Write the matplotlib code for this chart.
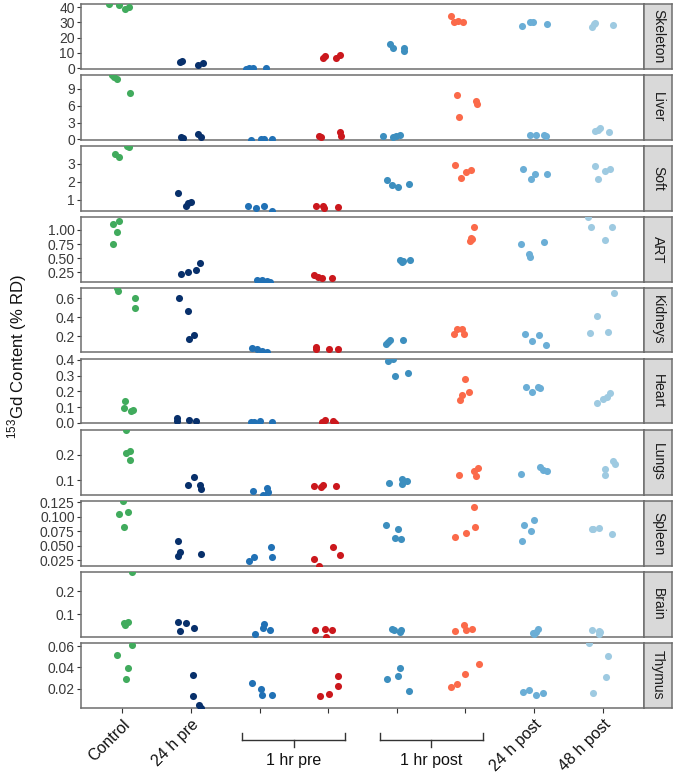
import matplotlib
matplotlib.use("Agg")
import matplotlib.pyplot as plt
from matplotlib.lines import Line2D
from matplotlib.transforms import blended_transform_factory

plt.rcParams['font.family'] = ['Liberation Sans', 'DejaVu Sans']
plt.rcParams['mathtext.fontset'] = 'custom'
plt.rcParams['mathtext.rm'] = 'Liberation Sans'

# ---------------- data ----------------
groups = ["Control", "24 h pre", "1 hr pre (a)", "1 hr pre (b)",
          "1 hr post (a)", "1 hr post (b)", "24 h post", "48 h post"]
group_colors = ["#41ab5d", "#08306b", "#2171b5", "#cb181d",
                "#3d8fbf", "#fb6a4a", "#6baed6", "#9ecae1"]
tick_labels = ["Control", "24 h pre", "", "", "", "", "24 h post", "48 h post"]
bracket_labels = ["1 hr pre", "1 hr post"]
organs = ["Skeleton", "Liver", "Soft", "ART", "Kidneys", "Heart",
          "Lungs", "Spleen", "Brain", "Thymus"]

skeleton = [[42.0, 41.1, 38.7, 40.0], [4.2, 4.5, 2.4, 3.3], [-0.2, 0.1, 0.3, 0.1],
            [6.4, 8.1, 6.8, 8.4], [15.6, 13.4, 13.4, 11.2], [34.3, 30.5, 31.0, 29.9],
            [27.7, 29.9, 30.3, 28.6], [27.2, 28.6, 29.5, 28.1]]
skeleton_jit = [[-0.19, -0.04, 0.04, 0.10], [-0.165, -0.13, 0.10, 0.17], [-0.19, -0.15, -0.10, 0.10],
                [-0.08, -0.04, 0.11, 0.17], [-0.10, -0.06, 0.11, 0.11], [-0.21, -0.17, -0.11, -0.04],
                [-0.17, -0.06, -0.01, 0.18], [-0.16, -0.13, -0.11, 0.15]]

liver = [[11.5, 11.2, 10.8, 8.35], [0.48, 0.3, 1.0, 0.4], [-0.02, 0.15, 0.15, 0.15],
         [0.65, 0.5, 1.25, 0.55], [0.65, 0.5, 0.55, 0.71], [7.9, 4.0, 6.9, 6.4],
         [0.78, 0.72, 0.84, 0.65], [1.49, 1.7, 1.95, 1.37]]
liver_jit = [[-0.15, -0.12, -0.07, 0.11], [-0.15, -0.12, 0.11, 0.15], [-0.12, 0.02, 0.06, 0.18],
             [-0.14, -0.10, 0.17, 0.19], [-0.20, -0.06, -0.01, 0.04], [-0.12, -0.09, 0.16, 0.17],
             [-0.06, 0.03, 0.15, 0.17], [-0.11, -0.07, -0.04, 0.09]]

soft = [[3.54, 3.39, 4.0, 3.95], [1.36, 0.63, 0.8, 0.89], [0.67, 0.52, 0.67, 0.4],
        [0.65, 0.66, 0.53, 0.62], [2.1, 1.82, 1.69, 1.87], [2.94, 2.19, 2.54, 2.65],
        [2.71, 2.15, 2.41, 2.41], [2.89, 2.15, 2.63, 2.72]]
soft_jit = [[-0.10, -0.04, 0.07, 0.10], [-0.18, -0.07, -0.04, 0.00], [-0.17, -0.05, 0.07, 0.18],
            [-0.17, -0.07, -0.06, 0.14], [-0.14, -0.07, 0.02, 0.18], [-0.15, -0.07, 0.01, 0.08],
            [-0.16, -0.04, 0.01, 0.18], [-0.12, -0.07, 0.03, 0.11]]

art = [[1.10, 1.16, 0.96, 0.75], [0.22, 0.26, 0.29, 0.42], [0.11, 0.11, 0.10, 0.085],
       [0.20, 0.17, 0.15, 0.15], [0.47, 0.44, 0.45, 0.47], [1.05, 0.86, 0.81, 0.84],
       [0.75, 0.78, 0.57, 0.52], [1.23, 1.05, 0.83, 1.06]]
art_jit = [[-0.13, -0.05, -0.08, -0.14], [-0.15, -0.04, 0.08, 0.14], [-0.04, 0.04, 0.11, 0.16],
           [-0.20, -0.15, -0.09, 0.05], [0.04, 0.07, 0.09, 0.19], [0.13, 0.08, 0.06, 0.10],
           [-0.19, 0.14, -0.07, -0.06], [-0.21, -0.17, 0.03, 0.14]]

kidneys = [[0.708, 0.674, 0.603, 0.498], [0.607, 0.463, 0.168, 0.21], [0.071, 0.060, 0.042, 0.028],
           [0.084, 0.063, 0.060, 0.063], [0.119, 0.14, 0.158, 0.155], [0.228, 0.274, 0.274, 0.218],
           [0.228, 0.144, 0.21, 0.105], [0.232, 0.41, 0.245, 0.656]]
kidneys_jit = [[-0.08, -0.06, 0.19, 0.19], [-0.17, -0.04, -0.03, 0.04], [-0.11, -0.04, 0.04, 0.11],
               [-0.18, -0.18, 0.01, 0.15], [-0.16, -0.13, -0.10, 0.09], [-0.17, -0.12, -0.05, -0.02],
               [-0.14, -0.03, 0.07, 0.17], [-0.19, -0.09, 0.07, 0.17]]

heart = [[0.14, 0.095, 0.074, 0.083], [0.03, 0.015, 0.019, 0.015], [0.004, 0.006, 0.01, 0.008],
         [0.008, 0.021, 0.015, -0.004], [0.396, 0.406, 0.298, 0.319], [0.279, 0.199, 0.18, 0.148],
         [0.227, 0.197, 0.23, 0.22], [0.125, 0.152, 0.163, 0.188]]
heart_jit = [[0.04, 0.03, 0.13, 0.16], [-0.20, -0.20, -0.02, 0.08], [-0.12, -0.08, 0.00, 0.18],
             [-0.09, -0.04, 0.07, 0.10], [-0.13, -0.05, -0.02, 0.16], [0.00, 0.05, -0.05, -0.08],
             [-0.12, -0.03, 0.06, 0.08], [-0.08, 0.00, 0.06, 0.11]]

lungs = [[0.298, 0.207, 0.215, 0.18], [0.084, 0.114, 0.084, 0.065], [0.058, 0.045, 0.071, 0.055],
         [0.08, 0.075, 0.082, 0.077], [0.091, 0.105, 0.087, 0.097], [0.123, 0.137, 0.15, 0.117],
         [0.127, 0.153, 0.14, 0.137], [0.146, 0.123, 0.175, 0.165]]
lungs_jit = [[0.06, 0.06, 0.11, 0.11], [-0.04, 0.05, 0.14, 0.15], [-0.10, 0.05, 0.11, 0.12],
             [-0.21, -0.10, -0.07, 0.11], [-0.12, 0.07, 0.07, 0.15], [-0.10, 0.13, 0.18, 0.15],
             [-0.19, 0.09, 0.13, 0.18], [0.03, 0.03, 0.15, 0.18]]

spleen = [[0.127, 0.105, 0.108, 0.082], [0.059, 0.039, 0.033, 0.035], [0.023, 0.031, 0.048, 0.031],
          [0.028, 0.016, 0.047, 0.034], [0.085, 0.079, 0.064, 0.062], [0.065, 0.072, 0.116, 0.082],
          [0.086, 0.094, 0.075, 0.059], [0.079, 0.078, 0.081, 0.071]]
spleen_jit = [[0.01, -0.04, 0.09, 0.02], [-0.18, -0.16, -0.18, 0.15], [-0.16, -0.08, 0.17, 0.18],
              [-0.21, -0.13, 0.07, 0.17], [-0.16, 0.02, -0.03, 0.06], [-0.15, 0.01, 0.13, 0.14],
              [-0.15, 0.00, -0.05, -0.18], [-0.16, -0.15, -0.05, 0.14]]

brain = [[0.284, 0.061, 0.065, 0.053], [0.065, 0.064, 0.027, 0.039], [0.013, 0.057, 0.039, 0.033],
         [0.032, 0.036, 0.033, 0.004], [0.035, 0.032, 0.022, 0.032], [0.027, 0.053, 0.034, 0.036],
         [0.021, 0.024, 0.036, 0.017], [0.034, 0.027, 0.017, 0.025]]
brain_jit = [[0.14, 0.02, 0.09, 0.04], [-0.18, -0.07, -0.16, 0.04], [-0.06, 0.06, 0.05, 0.16],
             [-0.19, -0.05, 0.05, -0.03], [-0.07, -0.04, 0.04, 0.06], [-0.15, -0.02, 0.01, 0.10],
             [-0.02, 0.02, 0.05, 0.00], [-0.16, -0.05, -0.06, -0.04]]

thymus = [[0.0514, 0.061, 0.0397, 0.0295], [0.033, 0.0133, 0.005, 0.0024], [0.025, 0.0197, 0.0137, 0.0137],
          [0.013, 0.0153, 0.023, 0.0317], [0.029, 0.032, 0.0398, 0.0178], [0.0219, 0.0248, 0.0338, 0.0433],
          [0.0167, 0.0189, 0.0137, 0.0162], [0.0629, 0.0511, 0.031, 0.0158]]
thymus_jit = [[-0.08, 0.15, 0.08, 0.05], [0.03, 0.03, 0.12, 0.15], [-0.11, 0.02, 0.03, 0.18],
              [-0.12, 0.01, 0.14, 0.14], [-0.14, 0.02, 0.04, 0.18], [-0.21, -0.13, -0.01, 0.19],
              [-0.16, -0.08, 0.02, 0.13], [-0.20, 0.07, 0.04, -0.15]]

panel_values = [skeleton, liver, soft, art, kidneys, heart, lungs, spleen, brain, thymus]
panel_jitter = [skeleton_jit, liver_jit, soft_jit, art_jit, kidneys_jit, heart_jit,
                lungs_jit, spleen_jit, brain_jit, thymus_jit]

y_ticks = [[0, 10, 20, 30, 40], [0, 3, 6, 9], [1, 2, 3], [0.25, 0.50, 0.75, 1.00],
           [0.2, 0.4, 0.6], [0.0, 0.1, 0.2, 0.3, 0.4], [0.1, 0.2],
           [0.025, 0.050, 0.075, 0.100, 0.125], [0.1, 0.2], [0.02, 0.04, 0.06]]
y_ticklabels = [["0", "10", "20", "30", "40"], ["0", "3", "6", "9"], ["1", "2", "3"],
                ["0.25", "0.50", "0.75", "1.00"], ["0.2", "0.4", "0.6"],
                ["0.0", "0.1", "0.2", "0.3", "0.4"], ["0.1", "0.2"],
                ["0.025", "0.050", "0.075", "0.100", "0.125"], ["0.1", "0.2"],
                ["0.02", "0.04", "0.06"]]

# ---------------- layout ----------------
W, H = 675, 779
fig = plt.figure(figsize=(W / 100, H / 100), dpi=100)
left_px, right_px = 81, 644
strip_w = 28
top0, pitch, ph = 4.0, 71.0, 64.5
border_col = "#6e6e6e"

positions = list(range(1, len(groups) + 1))
axes = []
for i, organ in enumerate(organs):
    top = top0 + pitch * i
    ax = fig.add_axes([left_px / W, 1 - (top + ph) / H, (right_px - left_px) / W, ph / H])
    axes.append(ax)
    vals = panel_values[i]
    jit = panel_jitter[i]
    allv = []
    for g in range(len(groups)):
        xs = [positions[g] + j for j in jit[g]]
        ax.scatter(xs, vals[g], s=26, color=group_colors[g], linewidths=0, zorder=3)
        allv.extend(vals[g])
    ax.set_ylim(min(allv), max(allv))
    ax.set_xlim(0.4, len(groups) + 0.6)
    ax.set_yticks(y_ticks[i])
    ax.set_yticklabels(y_ticklabels[i])
    ax.tick_params(axis='y', length=3, width=0.8, color="#333333", labelcolor="#3a3a3a",
                   labelsize=10, pad=1.5)
    for sp in ax.spines.values():
        sp.set_color(border_col)
        sp.set_linewidth(1.1)
    if i < len(organs) - 1:
        ax.set_xticks([])
    else:
        ax.set_xticks(positions)
        ax.set_xticklabels(tick_labels, rotation=45, ha='right', va='top',
                           rotation_mode='anchor', fontsize=11.5, color="#111111")
        ax.tick_params(axis='x', length=3.5, width=0.8, color="#333333", pad=3)

    # facet strip on the right
    sax = fig.add_axes([right_px / W, 1 - (top + ph) / H, strip_w / W, ph / H])
    sax.set_facecolor("#d9d9d9")
    sax.set_xticks([])
    sax.set_yticks([])
    for sp in sax.spines.values():
        sp.set_color(border_col)
        sp.set_linewidth(1.1)
    sax.text(0.5, 0.5, organ, rotation=-90, ha='center', va='center',
             fontsize=10, color="#1a1a1a", transform=sax.transAxes)

# brackets below the x-axis
bax = axes[-1]
tr = blended_transform_factory(bax.transData, fig.transFigure)
y_line = 1 - 740 / H
y_up = 1 - 733 / H
y_down = 1 - 747 / H
y_txt = 1 - 760 / H
bracket_pairs = [(3, 4), (5, 6)]
for (a, b), lab in zip(bracket_pairs, bracket_labels):
    x0, x1 = a - 0.25, b + 0.25
    xc = (a + b) / 2
    for xs, ys in [([x0, x1], [y_line, y_line]), ([x0, x0], [y_up, y_line]),
                   ([x1, x1], [y_up, y_line]), ([xc, xc], [y_line, y_down])]:
        fig.add_artist(Line2D(xs, ys, transform=tr, color="#333333", lw=1.0))
    fig.text(xc, y_txt, lab, transform=tr, ha='center', va='center',
             fontsize=11.5, color="#111111")

# y-axis title
fig.text(17 / W, 1 - 356 / H, r"$^{153}$Gd Content (% RD)", rotation=90,
         ha='center', va='center', fontsize=12, color="#111111")

fig.savefig("out.png", dpi=100, facecolor="white")
